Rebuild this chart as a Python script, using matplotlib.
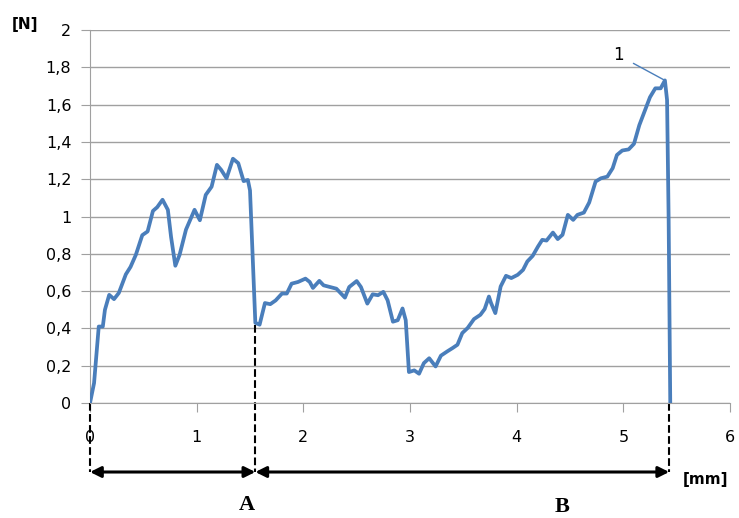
import numpy as np
import matplotlib.pyplot as plt

# przemieszczenie [mm] i sila [N]
x_mm = [0.0, 0.038, 0.082, 0.12, 0.14, 0.18, 0.225, 0.27, 0.336, 0.38, 0.43, 0.49, 0.54,
        0.59, 0.63, 0.68, 0.73, 0.76, 0.80, 0.84, 0.90, 0.98, 1.03, 1.085, 1.14, 1.19,
        1.23, 1.28, 1.34, 1.39, 1.44, 1.48, 1.50, 1.55, 1.59, 1.64, 1.69, 1.74, 1.80,
        1.845, 1.89, 1.95, 2.02, 2.06, 2.09, 2.15, 2.19, 2.25, 2.31, 2.39, 2.43, 2.50,
        2.54, 2.60, 2.65, 2.70, 2.75, 2.79, 2.84, 2.885, 2.93, 2.96, 2.99, 3.04, 3.085,
        3.13, 3.18, 3.24, 3.29, 3.35, 3.40, 3.445, 3.49, 3.54, 3.60, 3.66, 3.70, 3.74,
        3.76, 3.80, 3.85, 3.90, 3.95, 4.01, 4.06, 4.10, 4.15, 4.20, 4.24, 4.28, 4.34,
        4.385, 4.43, 4.48, 4.53, 4.57, 4.63, 4.68, 4.74, 4.79, 4.85, 4.90, 4.94, 4.99,
        5.05, 5.10, 5.15, 5.21, 5.25, 5.30, 5.35, 5.39, 5.41, 5.425, 5.44]
f_N = [0.0, 0.107, 0.41, 0.41, 0.50, 0.58, 0.557, 0.59, 0.69, 0.73, 0.795, 0.90, 0.92,
       1.03, 1.05, 1.09, 1.036, 0.89, 0.736, 0.795, 0.93, 1.036, 0.98, 1.116, 1.16, 1.277,
       1.25, 1.205, 1.31, 1.286, 1.19, 1.196, 1.14, 0.43, 0.42, 0.536, 0.53, 0.55, 0.587,
       0.587, 0.64, 0.649, 0.667, 0.649, 0.617, 0.655, 0.631, 0.622, 0.613, 0.565, 0.622, 0.654,
       0.622, 0.533, 0.583, 0.578, 0.596, 0.551, 0.436, 0.444, 0.507, 0.444, 0.166, 0.175, 0.157,
       0.214, 0.24, 0.196, 0.254, 0.277, 0.295, 0.3125, 0.375, 0.402, 0.45, 0.473, 0.504, 0.571,
       0.536, 0.482, 0.625, 0.682, 0.67, 0.6875, 0.714, 0.759, 0.789, 0.839, 0.875, 0.871, 0.914,
       0.879, 0.902, 1.009, 0.982, 1.009, 1.021, 1.075, 1.1875, 1.205, 1.214, 1.259, 1.33, 1.354,
       1.36, 1.39, 1.49, 1.58, 1.64, 1.6875, 1.6875, 1.73, 1.625, 0.98, 0.0]

x_ticks = [0, 1, 2, 3, 4, 5, 6]
y_ticks = [0, 0.2, 0.4, 0.6, 0.8, 1.0, 1.2, 1.4, 1.6, 1.8, 2.0]
y_labels = ['0', '0,2', '0,4', '0,6', '0,8', '1', '1,2', '1,4', '1,6', '1,8', '2']

# granice odcinkow A i B
x_a = 1.55
x_b = 5.43
y_arrow = -0.37

fig = plt.figure(figsize=(7.39, 5.18), dpi=100)
ax = fig.add_axes([0.1218, 0.222, 0.866, 0.720])

ax.plot(x_mm, f_N, color='#4a7ebb', lw=2.7, solid_joinstyle='round', solid_capstyle='round', zorder=3)

ax.set_xlim(0, 6)
ax.set_ylim(0, 2)
ax.set_xticks(x_ticks)
ax.set_yticks(y_ticks)
ax.set_yticklabels(y_labels)
ax.yaxis.grid(True, color='#a0a0a0', lw=1)
ax.set_axisbelow(True)
for s in ['top', 'right']:
    ax.spines[s].set_visible(False)
for s in ['left', 'bottom']:
    ax.spines[s].set_color('#a0a0a0')
ax.tick_params(axis='both', colors='#a0a0a0', labelcolor='black', labelsize=11.5, length=6.5)
ax.tick_params(axis='y', pad=7)
ax.tick_params(axis='x', pad=13)

# linie przerywane
ax.plot([0, 0], [0, y_arrow], 'k--', lw=1.5, clip_on=False)
ax.plot([x_a, x_a], [0.42, y_arrow], 'k--', lw=1.5, clip_on=False)
ax.plot([x_b, x_b], [0, y_arrow], 'k--', lw=1.5, clip_on=False)

# strzalki
arr = dict(arrowstyle='<|-|>', color='black', lw=2.2, mutation_scale=16, shrinkA=0, shrinkB=0)
ax.annotate('', xy=(0, y_arrow), xytext=(x_a, y_arrow), arrowprops=arr, annotation_clip=False)
ax.annotate('', xy=(x_a, y_arrow), xytext=(x_b, y_arrow), arrowprops=arr, annotation_clip=False)

ax.text(1.47, -0.547, 'A', family='Liberation Serif', weight='bold', fontsize=16,
        ha='center', va='center', clip_on=False)
ax.text(4.43, -0.56, 'B', family='Liberation Serif', weight='bold', fontsize=16,
        ha='center', va='center', clip_on=False)
ax.text(5.77, -0.41, '[mm]', weight='bold', fontsize=11, ha='center', va='center', clip_on=False)
fig.text(25 / 739, 1 - 25 / 518, '[N]', weight='bold', fontsize=11, ha='center', va='center')

# oznaczenie maksimum
ax.annotate('1', xy=(5.39, 1.73), xytext=(4.95, 1.866), fontsize=12, ha='center', va='center',
            arrowprops=dict(arrowstyle='-', color='#4a7ebb', lw=1, shrinkA=6, shrinkB=0))

fig.savefig('out.png', dpi=100)
